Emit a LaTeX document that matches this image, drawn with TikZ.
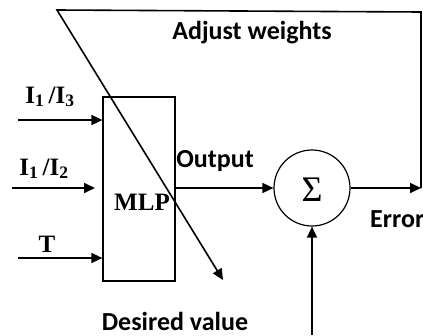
\documentclass[tikz,border=0pt]{standalone}
\usepackage{fontspec}
\setmainfont{Liberation Serif}
\newfontfamily\lblfont{Carlito}
\usetikzlibrary{arrows.meta}
\begin{document}
\begin{tikzpicture}[x=1pt,y=-1pt,
  conn/.style={line width=1.6pt},
  arr/.style={conn,-{Triangle[length=11pt,width=10pt]}},
  lbl/.style={font=\lblfont\bfseries\fontsize{26}{28}\selectfont,anchor=base,inner sep=0pt},
  slbl/.style={font=\bfseries\fontsize{25}{28}\selectfont,anchor=base,inner sep=0pt}]
\useasboundingbox (0,0) rectangle (423,335);
% nodes
\node[draw,line width=1.2pt,minimum width=72pt,minimum height=184pt,inner sep=0pt] (mlp) at (139,189) {};
\node[slbl] (mlptext) at (142,210) {MLP};
\node[draw,circle,line width=1.2pt,minimum size=76pt,inner sep=0pt] (sum) at (312,188) {};
\node[inner sep=0pt,anchor=base,font=\normalfont\fontsize{36}{38}\selectfont] (sig) at (312,201) {Σ};
% coordinates
\coordinate (tl) at (57,10);
\coordinate (tr) at (421,12);
\coordinate (errend) at (421,188);
\coordinate (dvend) at (223,280);
\coordinate (in1) at (18,120);
\coordinate (in2) at (12,188);
\coordinate (in2e) at (95,188);
\coordinate (in3) at (18,258);
\coordinate (dvin) at (312,335);
% connectors
\draw[arr] (errend) -- (tr) -- (tl) -- (dvend);
\draw[arr] (sum.east) -- (errend);
\draw[arr] (mlp.east |- sum.west) -- (sum.west);
\draw[arr] (in1) -- (mlp.west |- in1);
\draw[arr] (in2) -- (in2e);
\draw[arr] (in3) -- (mlp.west |- in3);
\draw[arr] (dvin) -- (sum.south);
% labels
\node[lbl] (adj) at (252,39) {Adjust weights};
\node[slbl] (l1) at (50,103) {I\textsubscript{1}\,/I\textsubscript{3}};
\node[slbl] (l2) at (44,175) {I\textsubscript{1}\,/I\textsubscript{2}};
\node[slbl] (l3) at (47,252) {T};
\node[lbl] (out) at (215,167) {Output};
\node[lbl,anchor=base west] (err) at (370,227) {Error};
\node[lbl] (des) at (175,330) {Desired value};
\end{tikzpicture}
\end{document}
